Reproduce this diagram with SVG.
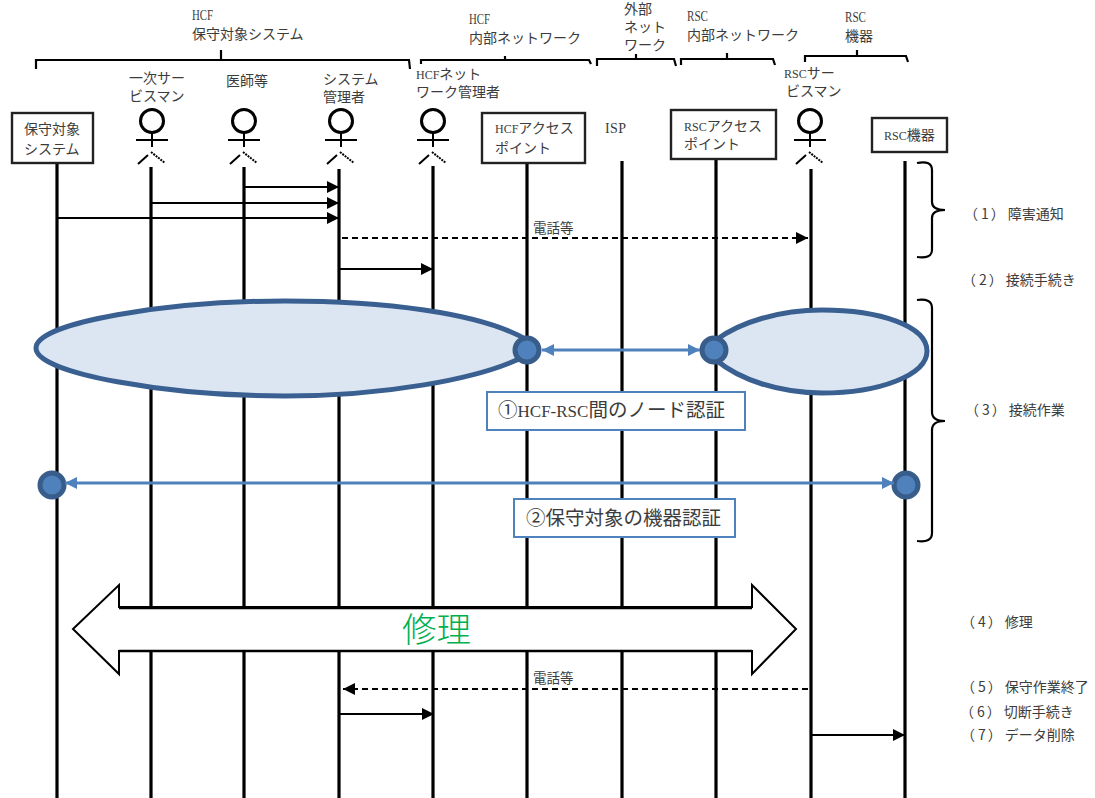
<svg xmlns="http://www.w3.org/2000/svg" width="1095" height="798" viewBox="0 0 1095 798">
<style>
text{font-family:"Noto Sans CJK JP","Liberation Sans",sans-serif;font-size:14px;fill:#3c3c3c}
.l{font-family:"Liberation Serif",serif;font-size:12px}
.t{font-family:"Liberation Serif",serif;font-size:14px}
.life{stroke:#000;stroke-width:3.2;fill:none}
.box{fill:#fff;stroke:#222;stroke-width:2.4}
.br{fill:none;stroke:#000;stroke-width:2.2}
.msg{stroke:#000;stroke-width:2;fill:none;marker-end:url(#a)}
.dash{stroke-dasharray:6 4}
.el{fill:#dce6f2;stroke:#3a6091;stroke-width:5}
.dot{fill:#4f81bd;stroke:#385d8a;stroke-width:5}
.blue{stroke:#4f81bd;stroke-width:3;fill:none;marker-start:url(#b);marker-end:url(#b)}
.lab{fill:#fff;stroke:#4f81bd;stroke-width:2}
.lt{font-size:19.5px}
.lt .l{font-size:17px}
</style>
<defs>
<marker id="a" markerUnits="userSpaceOnUse" markerWidth="14" markerHeight="14" refX="12" refY="7" orient="auto"><path d="M0 1L12 7L0 13Z" fill="#000"/></marker>
<marker id="b" markerUnits="userSpaceOnUse" markerWidth="14" markerHeight="14" refX="12" refY="7" orient="auto-start-reverse"><path d="M0 1L12 7L0 13Z" fill="#4f81bd"/></marker>
<g id="stick"><circle cx="0" cy="121" r="11.5" fill="#fff" stroke="#000" stroke-width="3"/><path d="M0 133V147M-16 140H16M-14 164L-4 155" fill="none" stroke="#000" stroke-width="2"/><path d="M-1 152L13 163" fill="none" stroke="#000" stroke-width="2" stroke-dasharray="2 1"/></g>
</defs>

<g id="lifelines">
<path class="life" d="M57 163V798M151 167V798M244 167V798M339 169V798M433 166V798M527 161V798M622 161V798M716 160V798M811 169V798M905 161V798"/>
</g>

<g id="group-brackets">
<path class="br" d="M36 69V60H409L410 69M221 50V60"/>
<path class="br" d="M421 64V60H589L591 64M505 56V60"/>
<path class="br" d="M597 66V59H674L676 66M636 54V59"/>
<path class="br" d="M681 65V59H773L775 65M727 53V59"/>
<path class="br" d="M805 62V56H906L908 62M857 50V56"/>
<path class="br" d="M917 163Q932 160 932 170V202Q932 210 945 210Q932 210 932 218V250Q932 259 917 257"/>
<path class="br" d="M917 300Q932 298 932 308V412Q932 421 945 421Q932 421 932 430V533Q932 543 917 541"/>
</g>

<g id="node-hosyu"><rect class="box" x="12" y="113" width="81" height="50"/><text x="24" y="134">保守対象</text><text x="24" y="154">システム</text></g>
<g id="node-primary"><use href="#stick" x="152"/><text x="129" y="83">一次サー</text><text x="129" y="101">ビスマン</text></g>
<g id="node-doctor"><use href="#stick" x="244"/><text x="226" y="86">医師等</text></g>
<g id="node-sysadmin"><use href="#stick" x="341"/><text x="323" y="84">システム</text><text x="323" y="102">管理者</text></g>
<g id="node-hcfadmin"><use href="#stick" x="433"/><text x="416" y="79"><tspan class="l">HCF</tspan>ネット</text><text x="416" y="97">ワーク管理者</text></g>
<g id="node-hcfap"><rect class="box" x="482" y="113" width="103" height="50"/><text x="495" y="133"><tspan class="l">HCF</tspan>アクセス</text><text x="495" y="153">ポイント</text></g>
<g id="node-isp"><text x="605" y="133" class="t" textLength="21">ISP</text></g>
<g id="node-rscap"><rect class="box" x="671" y="110" width="105" height="49"/><text x="684" y="131"><tspan class="l">RSC</tspan>アクセス</text><text x="684" y="149">ポイント</text></g>
<g id="node-rscman"><use href="#stick" x="810"/><text x="784" y="78"><tspan class="l">RSC</tspan>サー</text><text x="786" y="96">ビスマン</text></g>
<g id="node-rscdev"><rect class="box" x="872" y="118" width="75" height="34"/><text x="884" y="140"><tspan class="l">RSC</tspan>機器</text></g>

<g id="group-labels">
<text x="192" y="20" class="t" textLength="21" lengthAdjust="spacingAndGlyphs">HCF</text><text x="192" y="39">保守対象システム</text>
<text x="469" y="24" class="t" textLength="21" lengthAdjust="spacingAndGlyphs">HCF</text><text x="469" y="43">内部ネットワーク</text>
<text x="624" y="14">外部</text><text x="624" y="32">ネット</text><text x="624" y="50">ワーク</text>
<text x="687" y="21" class="t" textLength="21" lengthAdjust="spacingAndGlyphs">RSC</text><text x="687" y="40">内部ネットワーク</text>
<text x="845" y="22" class="t" textLength="21" lengthAdjust="spacingAndGlyphs">RSC</text><text x="845" y="41">機器</text>
</g>

<g id="auth">
<path class="el" d="M36 348C36 322 170 301 285 301C380 301 480 312 527 340V355C480 380 380 396 285 396C170 396 36 374 36 348Z"/>
<path class="el" d="M716 340C740 322 780 310 822 310C880 310 927 326 927 351C927 375 880 393 822 393C780 393 740 380 716 360Z"/>
<circle class="dot" cx="527" cy="350" r="12"/><circle class="dot" cx="714" cy="350" r="12"/>
<path class="blue" d="M542 350H700"/>
<rect class="lab" x="487" y="392" width="258" height="38"/>
<text class="lt" x="498" y="417">①<tspan class="l">HCF-RSC</tspan>間のノード認証</text>
<circle class="dot" cx="52" cy="485" r="12"/><circle class="dot" cx="906" cy="485" r="12"/>
<path class="blue" d="M65 483H894"/>
<rect class="lab" x="514" y="499" width="221" height="38"/>
<text class="lt" x="526" y="525">②保守対象の機器認証</text>
</g>

<g id="repair">
<path d="M73 629L119 585V607H752V585L796 629L752 674V651H119V674Z" fill="#fff" stroke="#000" stroke-width="2"/>
<path d="M119 608H752M119 651H752" stroke="#000" stroke-width="2.5" fill="none"/>
<text x="402" y="642" style="font-size:34.5px;fill:#00b050;font-weight:300">修理</text>
</g>

<g id="connectors">
<path class="msg" d="M245 187H339"/>
<path class="msg" d="M151 203H339"/>
<path class="msg" d="M57 218H339"/>
<path class="msg dash" d="M342 238H808"/>
<path class="msg" d="M339 269H433"/>
<path class="msg dash" d="M808 689H343"/>
<path class="msg" d="M340 714H434"/>
<path class="msg" d="M810 735H905"/>
<text x="533" y="233" style="font-size:13.5px">電話等</text>
<text x="533" y="683" style="font-size:13.5px">電話等</text>
</g>

<g id="steps">
<text x="964" y="219">（<tspan dx="3">1</tspan><tspan dx="2">）</tspan><tspan dx="3">障害通知</tspan></text>
<text x="962" y="285">（<tspan dx="3">2</tspan><tspan dx="2">）</tspan><tspan dx="3">接続手続き</tspan></text>
<text x="965" y="415">（<tspan dx="3">3</tspan><tspan dx="2">）</tspan><tspan dx="3">接続作業</tspan></text>
<text x="961" y="627">（<tspan dx="3">4</tspan><tspan dx="2">）</tspan><tspan dx="3">修理</tspan></text>
<text x="961" y="692">（<tspan dx="3">5</tspan><tspan dx="2">）</tspan><tspan dx="3">保守作業終了</tspan></text>
<text x="960" y="717">（<tspan dx="3">6</tspan><tspan dx="2">）</tspan><tspan dx="3">切断手続き</tspan></text>
<text x="961" y="740">（<tspan dx="3">7</tspan><tspan dx="2">）</tspan><tspan dx="3">データ削除</tspan></text>
</g>
</svg>
